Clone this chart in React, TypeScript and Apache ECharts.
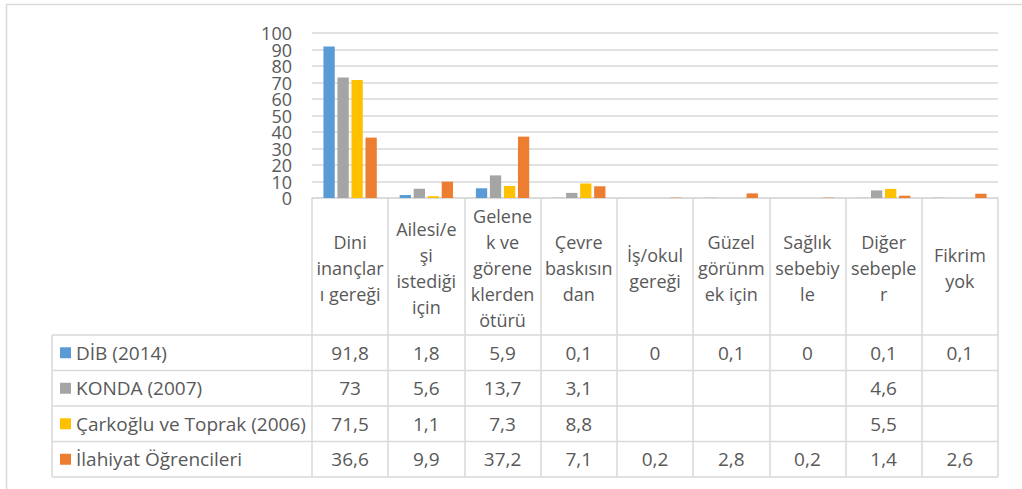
import React, { useEffect, useRef } from "react";
import * as echarts from "echarts";

const categories = [
  "Dini\ninançlar\nı gereği",
  "Ailesi/e\nşi\nistediği\niçin",
  "Gelene\nk ve\ngörene\nklerden\nötürü",
  "Çevre\nbaskısın\ndan",
  "İş/okul\ngereği",
  "Güzel\ngörünm\nek için",
  "Sağlık\nsebebiy\nle",
  "Diğer\nsebeple\nr",
  "Fikrim\nyok",
];

const seriesNames = ["DİB (2014)", "KONDA (2007)", "Çarkoğlu ve Toprak (2006)", "İlahiyat Öğrencileri"];
const dib = [91.8, 1.8, 5.9, 0.1, 0, 0.1, 0, 0.1, 0.1];
const konda = [73, 5.6, 13.7, 3.1, null, null, null, 4.6, null];
const carkoglu = [71.5, 1.1, 7.3, 8.8, null, null, null, 5.5, null];
const ilahiyat = [36.6, 9.9, 37.2, 7.1, 0.2, 2.8, 0.2, 1.4, 2.6];
const yTicks = { min: 0, max: 100, interval: 10 };

const colors = ["#5B9BD5", "#A5A5A5", "#FFC000", "#ED7D31"];
const TEXT = "#595959";
const LINE = "#d9d9d9";
const FONT = "'Open Sans', sans-serif";

export default function App() {
  const ref = useRef<HTMLDivElement>(null);
  useEffect(() => {
    if (!ref.current) return;
    const chart = echarts.init(ref.current, null, { renderer: "svg" });
    const allData = [dib, konda, carkoglu, ilahiyat];

    const gridLeft = 312;
    const gridRight = 24;
    const gridTop = 33;
    const gridBottomY = 198;
    const headerBottom = 335;
    const rowH = 35.5;
    const tableLeft = 52;
    const tableRight = 1022 - gridRight;
    const tableBottom = headerBottom + rowH * 4;

    const fmt = (v: number | null) => (v === null ? "" : String(v).replace(".", ","));

    const rowAxes = allData.map((arr, i) => ({
      type: "category",
      gridIndex: 0,
      position: "bottom",
      offset: headerBottom + rowH * (i + 0.5) - gridBottomY,
      data: categories,
      axisLine: { show: false },
      axisTick: { show: false },
      axisLabel: {
        interval: 0,
        margin: 0,
        verticalAlign: "middle",
        fontSize: 19,
        fontFamily: FONT,
        color: TEXT,
        formatter: (_v: string, idx: number) => fmt(arr[idx]),
      },
    }));

    const hLines = [0, 1, 2, 3, 4].map((k) => ({
      type: "line",
      shape: { x1: tableLeft, y1: headerBottom + rowH * k, x2: tableRight, y2: headerBottom + rowH * k },
      style: { stroke: LINE, lineWidth: 1.5 },
      silent: true,
    }));

    const yLabel = { fontSize: 18, color: TEXT, fontFamily: FONT, margin: 20, hideOverlap: false };

    chart.setOption({
      animation: false,
      color: colors,
      textStyle: { fontFamily: FONT },
      grid: { left: gridLeft, right: gridRight, top: gridTop, height: gridBottomY - gridTop },
      legend: {
        orient: "vertical",
        left: 60,
        top: headerBottom + rowH / 2 - 10,
        padding: 0,
        itemWidth: 11,
        itemHeight: 11,
        itemGap: rowH - 20,
        icon: "rect",
        selectedMode: false,
        textStyle: { fontSize: 19, color: TEXT, fontFamily: FONT, lineHeight: 20, height: 20 },
        data: seriesNames,
      },
      xAxis: [
        {
          type: "category",
          gridIndex: 0,
          data: categories,
          axisLine: { show: true, lineStyle: { color: LINE, width: 1.5 } },
          axisTick: { show: true, interval: 0, length: tableBottom - gridBottomY, lineStyle: { color: LINE, width: 1.5 } },
          axisLabel: {
            interval: 0,
            margin: 70,
            verticalAlign: "middle",
            fontSize: 18,
            lineHeight: 26,
            fontFamily: FONT,
            color: TEXT,
          },
        },
        ...rowAxes,
      ],
      yAxis: [
        {
          type: "value",
          min: yTicks.min,
          max: yTicks.max,
          interval: yTicks.interval,
          axisLine: { show: false },
          axisTick: { show: false },
          splitLine: { lineStyle: { color: LINE, width: 1.5 } },
          axisLabel: { ...yLabel, showMinLabel: false, showMaxLabel: false },
        },
        {
          type: "value",
          position: "left",
          min: yTicks.min,
          max: yTicks.max,
          interval: yTicks.max - yTicks.min,
          axisLine: { show: false },
          axisTick: { show: false },
          splitLine: { show: false },
          axisLabel: { ...yLabel },
        },
      ],
      series: allData.map((arr, i) => ({
        name: seriesNames[i],
        type: "bar",
        xAxisIndex: 0,
        yAxisIndex: 0,
        data: arr.map((v) => (v === null ? "-" : v)),
        barCategoryGap: "30%",
        barGap: "24%",
      })),
      graphic: [
        {
          type: "rect",
          shape: { x: 6.5, y: 4.5, width: 1100, height: 600 },
          style: { fill: "none", stroke: LINE, lineWidth: 1.5 },
          silent: true,
          z: -10,
        },
        {
          type: "line",
          shape: { x1: tableLeft, y1: headerBottom, x2: tableLeft, y2: tableBottom },
          style: { stroke: LINE, lineWidth: 1.5 },
          silent: true,
        },
        ...hLines,
      ],
    });
    return () => chart.dispose();
  }, []);
  return <div ref={ref} style={{ position: "absolute", left: 0, top: 0, width: 1022, height: 489 }} />;
}
